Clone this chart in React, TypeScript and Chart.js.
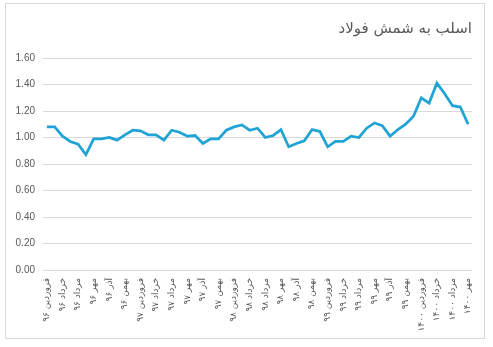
import React, { useEffect, useRef } from "react";
import { Chart, registerables } from "chart.js";

Chart.register(...registerables);

const chartTitle = "اسلب به شمش فولاد";

const categories: string[] = [
  "فروردین ۹۶", "اردیبهشت ۹۶", "خرداد ۹۶", "تیر ۹۶", "مرداد ۹۶", "شهریور ۹۶",
  "مهر ۹۶", "آبان ۹۶", "آذر ۹۶", "دی ۹۶", "بهمن ۹۶", "اسفند ۹۶",
  "فروردین ۹۷", "اردیبهشت ۹۷", "خرداد ۹۷", "تیر ۹۷", "مرداد ۹۷", "شهریور ۹۷",
  "مهر ۹۷", "آبان ۹۷", "آذر ۹۷", "دی ۹۷", "بهمن ۹۷", "اسفند ۹۷",
  "فروردین ۹۸", "اردیبهشت ۹۸", "خرداد ۹۸", "تیر ۹۸", "مرداد ۹۸", "شهریور ۹۸",
  "مهر ۹۸", "آبان ۹۸", "آذر ۹۸", "دی ۹۸", "بهمن ۹۸", "اسفند ۹۸",
  "فروردین ۹۹", "اردیبهشت ۹۹", "خرداد ۹۹", "تیر ۹۹", "مرداد ۹۹", "شهریور ۹۹",
  "مهر ۹۹", "آبان ۹۹", "آذر ۹۹", "دی ۹۹", "بهمن ۹۹", "اسفند ۹۹",
  "فروردین ۱۴۰۰", "اردیبهشت ۱۴۰۰", "خرداد ۱۴۰۰", "تیر ۱۴۰۰", "مرداد ۱۴۰۰", "شهریور ۱۴۰۰",
  "مهر ۱۴۰۰",
];

const ratioValues: number[] = [
  1.08, 1.08, 1.01, 0.97, 0.95, 0.87, 0.99, 0.99, 1.0, 0.98, 1.02, 1.055,
  1.05, 1.02, 1.02, 0.98, 1.055, 1.04, 1.01, 1.015, 0.955, 0.99, 0.99, 1.055,
  1.08, 1.095, 1.055, 1.07, 1.0, 1.015, 1.06, 0.93, 0.955, 0.975, 1.06, 1.045,
  0.93, 0.97, 0.97, 1.01, 1.0, 1.07, 1.11, 1.09, 1.01, 1.06, 1.1, 1.16,
  1.3, 1.26, 1.41, 1.33, 1.24, 1.23, 1.1,
];

const yMin = 0;
const yMax = 1.6;
const yStep = 0.2;

export default function App() {
  const canvasRef = useRef<HTMLCanvasElement | null>(null);

  useEffect(() => {
    const canvas = canvasRef.current;
    if (!canvas) return;
    const chart = new Chart(canvas, {
      type: "line",
      data: {
        labels: categories,
        datasets: [
          {
            data: ratioValues,
            borderColor: "#21a3d6",
            borderWidth: 2.75,
            pointRadius: 0,
            tension: 0,
            fill: false,
          },
        ],
      },
      options: {
        animation: false,
        responsive: false,
        layout: { padding: { left: 0, right: 21, top: 0, bottom: 10 } },
        plugins: {
          legend: { display: false },
          tooltip: { enabled: false },
          title: {
            display: true,
            text: chartTitle,
            align: "end",
            color: "#595959",
            font: { family: "DejaVu Sans", size: 15, weight: "normal" },
            padding: { top: 20, bottom: 20 },
          },
        },
        scales: {
          x: {
            offset: true,
            grid: { display: false, drawTicks: false },
            border: { display: false },
            afterFit: (scale: any) => {
              scale.height = 67;
            },
            ticks: {
              autoSkip: false,
              maxRotation: 90,
              minRotation: 90,
              padding: 8,
              color: "#595959",
              font: { family: "DejaVu Sans", size: 9 },
              callback: (_v: any, i: number) => (i % 2 === 0 ? categories[i] : ""),
            },
          },
          y: {
            min: yMin,
            max: yMax,
            grid: { color: "#d9d9d9", lineWidth: 1, drawTicks: false },
            border: { display: false },
            afterFit: (scale: any) => {
              scale.width = 43;
            },
            ticks: {
              stepSize: yStep,
              padding: 8,
              color: "#595959",
              font: { family: "Liberation Sans", size: 10 },
              callback: (v: any) => Number(v).toFixed(2),
            },
          },
        },
      },
    });
    return () => chart.destroy();
  }, []);

  return (
    <div style={{ position: "fixed", left: 0, top: 0, width: 493, height: 347, background: "#fff" }}>
      <div
        style={{
          position: "absolute",
          left: 5,
          top: 3,
          width: 480,
          height: 336,
          border: "1px solid #d9d9d9",
          boxSizing: "border-box",
        }}
      />
      <canvas
        ref={canvasRef}
        width={493}
        height={347}
        style={{ position: "absolute", left: 0, top: 0, width: 493, height: 347 }}
      />
    </div>
  );
}
